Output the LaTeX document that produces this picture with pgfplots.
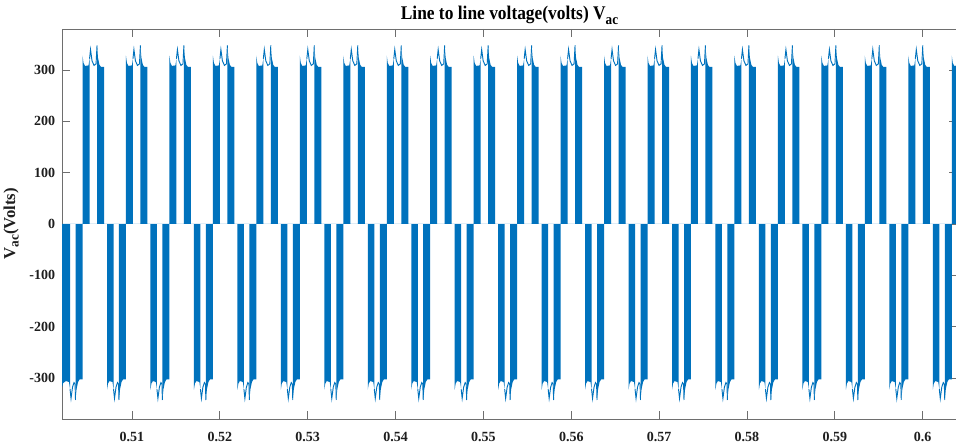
\documentclass[border=0pt]{standalone}
\usepackage{graphicx}
\usepackage{pgfplots}
\pgfplotsset{compat=1.18}
\usepackage{fontspec}
\setmainfont{Liberation Serif}
\definecolor{mblue}{RGB}{0,114,189}
\definecolor{axgray}{RGB}{110,110,110}
\definecolor{txt}{RGB}{30,30,30}
\begin{document}
\begin{tikzpicture}
\begin{axis}[
  scale only axis,
  width=671.25pt, height=292.5pt,
  xmin=0.502033, xmax=0.603904,
  ymin=-380, ymax=380,
  xtick={0.51,0.52,0.53,0.54,0.55,0.56,0.57,0.58,0.59,0.6},
  xticklabels={0.51,0.52,0.53,0.54,0.55,0.56,0.57,0.58,0.59,0.6},
  ytick={-300,-200,-100,0,100,200,300},
  yticklabels={-300,-200,-100,0,100,200,300},
  tick align=inside,
  major tick length=6pt,
  axis line style={axgray, line width=0.6pt},
  tick style={axgray, line width=0.6pt},
  tick label style={font=\bfseries\fontsize{10.5}{12}\selectfont, text=txt},
  xticklabel style={yshift=-6.5pt},
  yticklabel style={xshift=-1.7pt},
  title={\scalebox{0.9}[1]{Line to line voltage(volts) V\raisebox{-0.55ex}{\fontsize{11}{12}\selectfont ac}}},
  title style={font=\bfseries\fontsize{14.5}{16}\selectfont, text=black, at={(axis description cs:0.5,1)}, anchor=base, yshift=1.1pt, inner sep=0pt},
  ylabel={V\raisebox{-0.45ex}{\fontsize{10}{11}\selectfont ac}(Volts)},
  ylabel style={font=\bfseries\fontsize{12.5}{14}\selectfont, text=txt, at={(axis description cs:-0.048,0.5)}, anchor=south, inner sep=0pt},
  clip=true,
]
\addplot[fill=mblue, draw=none, mark=none] coordinates {
(0.50205,0) (0.50205,-318) (0.50216,-310) (0.50249,-306) (0.50283,-308) (0.50295,-322) (0.50295,0)
(0.50357,0) (0.50357,-343) (0.50369,-322) (0.50386,-308) (0.50403,-303) (0.50437,-303)
(0.50437,0) (0.50437,328) (0.50448,314) (0.50465,308) (0.50505,309) (0.50517,322) (0.50517,0)
(0.50602,0) (0.50602,348) (0.50613,324) (0.50630,310) (0.50648,306) (0.50682,306) (0.50682,0)
(0.50716,0) (0.50716,-323) (0.50727,-311) (0.50744,-306) (0.50778,-308) (0.50790,-322) (0.50790,0)
(0.50852,0) (0.50852,-343) (0.50864,-322) (0.50881,-308) (0.50898,-303) (0.50931,-303)
(0.50931,0) (0.50931,328) (0.50942,314) (0.50959,308) (0.50999,309) (0.51011,322) (0.51011,0)
(0.51096,0) (0.51096,348) (0.51107,324) (0.51124,310) (0.51142,306) (0.51176,306) (0.51176,0)
(0.51210,0) (0.51210,-323) (0.51221,-311) (0.51238,-306) (0.51272,-308) (0.51284,-322) (0.51284,0)
(0.51346,0) (0.51346,-343) (0.51358,-322) (0.51375,-308) (0.51392,-303) (0.51426,-303)
(0.51426,0) (0.51426,328) (0.51437,314) (0.51454,308) (0.51494,309) (0.51506,322) (0.51506,0)
(0.51591,0) (0.51591,348) (0.51602,324) (0.51619,310) (0.51637,306) (0.51671,306) (0.51671,0)
(0.51705,0) (0.51705,-323) (0.51716,-311) (0.51733,-306) (0.51767,-308) (0.51779,-322) (0.51779,0)
(0.51841,0) (0.51841,-343) (0.51853,-322) (0.51870,-308) (0.51887,-303) (0.51921,-303)
(0.51921,0) (0.51921,328) (0.51932,314) (0.51949,308) (0.51989,309) (0.52001,322) (0.52001,0)
(0.52086,0) (0.52086,348) (0.52097,324) (0.52114,310) (0.52132,306) (0.52166,306) (0.52166,0)
(0.52200,0) (0.52200,-323) (0.52211,-311) (0.52228,-306) (0.52262,-308) (0.52274,-322) (0.52274,0)
(0.52336,0) (0.52336,-343) (0.52348,-322) (0.52365,-308) (0.52382,-303) (0.52415,-303)
(0.52415,0) (0.52415,328) (0.52426,314) (0.52443,308) (0.52483,309) (0.52495,322) (0.52495,0)
(0.52580,0) (0.52580,348) (0.52591,324) (0.52608,310) (0.52626,306) (0.52660,306) (0.52660,0)
(0.52694,0) (0.52694,-323) (0.52705,-311) (0.52722,-306) (0.52756,-308) (0.52768,-322) (0.52768,0)
(0.52830,0) (0.52830,-343) (0.52842,-322) (0.52859,-308) (0.52876,-303) (0.52910,-303)
(0.52910,0) (0.52910,328) (0.52921,314) (0.52938,308) (0.52978,309) (0.52990,322) (0.52990,0)
(0.53075,0) (0.53075,348) (0.53086,324) (0.53103,310) (0.53121,306) (0.53155,306) (0.53155,0)
(0.53189,0) (0.53189,-323) (0.53200,-311) (0.53217,-306) (0.53251,-308) (0.53263,-322) (0.53263,0)
(0.53325,0) (0.53325,-343) (0.53337,-322) (0.53354,-308) (0.53371,-303) (0.53405,-303)
(0.53405,0) (0.53405,328) (0.53416,314) (0.53433,308) (0.53473,309) (0.53485,322) (0.53485,0)
(0.53570,0) (0.53570,348) (0.53581,324) (0.53598,310) (0.53616,306) (0.53650,306) (0.53650,0)
(0.53684,0) (0.53684,-323) (0.53695,-311) (0.53712,-306) (0.53746,-308) (0.53758,-322) (0.53758,0)
(0.53820,0) (0.53820,-343) (0.53832,-322) (0.53849,-308) (0.53866,-303) (0.53900,-303)
(0.53900,0) (0.53900,328) (0.53911,314) (0.53928,308) (0.53968,309) (0.53980,322) (0.53980,0)
(0.54065,0) (0.54065,348) (0.54076,324) (0.54093,310) (0.54111,306) (0.54145,306) (0.54145,0)
(0.54179,0) (0.54179,-323) (0.54190,-311) (0.54207,-306) (0.54241,-308) (0.54253,-322) (0.54253,0)
(0.54315,0) (0.54315,-343) (0.54327,-322) (0.54344,-308) (0.54361,-303) (0.54394,-303)
(0.54394,0) (0.54394,328) (0.54405,314) (0.54422,308) (0.54462,309) (0.54474,322) (0.54474,0)
(0.54559,0) (0.54559,348) (0.54570,324) (0.54587,310) (0.54605,306) (0.54639,306) (0.54639,0)
(0.54673,0) (0.54673,-323) (0.54684,-311) (0.54701,-306) (0.54735,-308) (0.54747,-322) (0.54747,0)
(0.54809,0) (0.54809,-343) (0.54821,-322) (0.54838,-308) (0.54855,-303) (0.54889,-303)
(0.54889,0) (0.54889,328) (0.54900,314) (0.54917,308) (0.54957,309) (0.54969,322) (0.54969,0)
(0.55054,0) (0.55054,348) (0.55065,324) (0.55082,310) (0.55100,306) (0.55134,306) (0.55134,0)
(0.55168,0) (0.55168,-323) (0.55179,-311) (0.55196,-306) (0.55230,-308) (0.55242,-322) (0.55242,0)
(0.55304,0) (0.55304,-343) (0.55316,-322) (0.55333,-308) (0.55350,-303) (0.55384,-303)
(0.55384,0) (0.55384,328) (0.55395,314) (0.55412,308) (0.55452,309) (0.55464,322) (0.55464,0)
(0.55549,0) (0.55549,348) (0.55560,324) (0.55577,310) (0.55595,306) (0.55629,306) (0.55629,0)
(0.55663,0) (0.55663,-323) (0.55674,-311) (0.55691,-306) (0.55725,-308) (0.55737,-322) (0.55737,0)
(0.55799,0) (0.55799,-343) (0.55811,-322) (0.55828,-308) (0.55845,-303) (0.55878,-303)
(0.55878,0) (0.55878,328) (0.55889,314) (0.55906,308) (0.55946,309) (0.55958,322) (0.55958,0)
(0.56043,0) (0.56043,348) (0.56054,324) (0.56071,310) (0.56089,306) (0.56123,306) (0.56123,0)
(0.56157,0) (0.56157,-323) (0.56168,-311) (0.56185,-306) (0.56219,-308) (0.56231,-322) (0.56231,0)
(0.56293,0) (0.56293,-343) (0.56305,-322) (0.56322,-308) (0.56339,-303) (0.56373,-303)
(0.56373,0) (0.56373,328) (0.56384,314) (0.56401,308) (0.56441,309) (0.56453,322) (0.56453,0)
(0.56538,0) (0.56538,348) (0.56549,324) (0.56566,310) (0.56584,306) (0.56618,306) (0.56618,0)
(0.56652,0) (0.56652,-323) (0.56663,-311) (0.56680,-306) (0.56714,-308) (0.56726,-322) (0.56726,0)
(0.56788,0) (0.56788,-343) (0.56800,-322) (0.56817,-308) (0.56834,-303) (0.56868,-303)
(0.56868,0) (0.56868,328) (0.56879,314) (0.56896,308) (0.56936,309) (0.56948,322) (0.56948,0)
(0.57033,0) (0.57033,348) (0.57044,324) (0.57061,310) (0.57079,306) (0.57113,306) (0.57113,0)
(0.57147,0) (0.57147,-323) (0.57158,-311) (0.57175,-306) (0.57209,-308) (0.57221,-322) (0.57221,0)
(0.57283,0) (0.57283,-343) (0.57295,-322) (0.57312,-308) (0.57329,-303) (0.57362,-303)
(0.57362,0) (0.57362,328) (0.57373,314) (0.57390,308) (0.57430,309) (0.57442,322) (0.57442,0)
(0.57527,0) (0.57527,348) (0.57538,324) (0.57555,310) (0.57573,306) (0.57607,306) (0.57607,0)
(0.57641,0) (0.57641,-323) (0.57652,-311) (0.57669,-306) (0.57703,-308) (0.57715,-322) (0.57715,0)
(0.57777,0) (0.57777,-343) (0.57789,-322) (0.57806,-308) (0.57823,-303) (0.57857,-303)
(0.57857,0) (0.57857,328) (0.57868,314) (0.57885,308) (0.57925,309) (0.57937,322) (0.57937,0)
(0.58022,0) (0.58022,348) (0.58033,324) (0.58050,310) (0.58068,306) (0.58102,306) (0.58102,0)
(0.58136,0) (0.58136,-323) (0.58147,-311) (0.58164,-306) (0.58198,-308) (0.58210,-322) (0.58210,0)
(0.58272,0) (0.58272,-343) (0.58284,-322) (0.58301,-308) (0.58318,-303) (0.58352,-303)
(0.58352,0) (0.58352,328) (0.58363,314) (0.58380,308) (0.58420,309) (0.58432,322) (0.58432,0)
(0.58517,0) (0.58517,348) (0.58528,324) (0.58545,310) (0.58563,306) (0.58597,306) (0.58597,0)
(0.58631,0) (0.58631,-323) (0.58642,-311) (0.58659,-306) (0.58693,-308) (0.58705,-322) (0.58705,0)
(0.58767,0) (0.58767,-343) (0.58779,-322) (0.58796,-308) (0.58813,-303) (0.58847,-303)
(0.58847,0) (0.58847,328) (0.58858,314) (0.58875,308) (0.58915,309) (0.58927,322) (0.58927,0)
(0.59012,0) (0.59012,348) (0.59023,324) (0.59040,310) (0.59058,306) (0.59092,306) (0.59092,0)
(0.59126,0) (0.59126,-323) (0.59137,-311) (0.59154,-306) (0.59188,-308) (0.59200,-322) (0.59200,0)
(0.59262,0) (0.59262,-343) (0.59274,-322) (0.59291,-308) (0.59308,-303) (0.59341,-303)
(0.59341,0) (0.59341,328) (0.59352,314) (0.59369,308) (0.59409,309) (0.59421,322) (0.59421,0)
(0.59506,0) (0.59506,348) (0.59517,324) (0.59534,310) (0.59552,306) (0.59586,306) (0.59586,0)
(0.59620,0) (0.59620,-323) (0.59631,-311) (0.59648,-306) (0.59682,-308) (0.59694,-322) (0.59694,0)
(0.59756,0) (0.59756,-343) (0.59768,-322) (0.59785,-308) (0.59802,-303) (0.59836,-303)
(0.59836,0) (0.59836,328) (0.59847,314) (0.59864,308) (0.59904,309) (0.59916,322) (0.59916,0)
(0.60001,0) (0.60001,348) (0.60012,324) (0.60029,310) (0.60047,306) (0.60081,306) (0.60081,0)
(0.60115,0) (0.60115,-323) (0.60126,-311) (0.60143,-306) (0.60177,-308) (0.60189,-322) (0.60189,0)
(0.60251,0) (0.60251,-343) (0.60263,-322) (0.60280,-308) (0.60297,-303) (0.60331,-303)
(0.60331,0) (0.60331,328) (0.60342,314) (0.60359,308) (0.60399,309) (0.60411,322) (0.60411,0)
} -- cycle;
\addplot[mblue, line width=0.7pt, mark=none, unbounded coords=jump] table {
x y
0.50295 -322
0.50306 -340
0.50323 -318
0.50340 -309
0.50352 -312
0.50357 -343
0.50357 nan
0.50517 322
0.50528 340
0.50545 318
0.50568 309
0.50591 312
0.50602 348
0.50602 nan
0.50790 -322
0.50801 -340
0.50818 -318
0.50835 -309
0.50847 -312
0.50852 -343
0.50852 nan
0.51011 322
0.51022 340
0.51039 318
0.51062 309
0.51085 312
0.51096 348
0.51096 nan
0.51284 -322
0.51295 -340
0.51312 -318
0.51329 -309
0.51341 -312
0.51346 -343
0.51346 nan
0.51506 322
0.51517 340
0.51534 318
0.51557 309
0.51580 312
0.51591 348
0.51591 nan
0.51779 -322
0.51790 -340
0.51807 -318
0.51824 -309
0.51836 -312
0.51841 -343
0.51841 nan
0.52001 322
0.52012 340
0.52029 318
0.52052 309
0.52075 312
0.52086 348
0.52086 nan
0.52274 -322
0.52285 -340
0.52302 -318
0.52319 -309
0.52331 -312
0.52336 -343
0.52336 nan
0.52495 322
0.52506 340
0.52523 318
0.52546 309
0.52569 312
0.52580 348
0.52580 nan
0.52768 -322
0.52779 -340
0.52796 -318
0.52813 -309
0.52825 -312
0.52830 -343
0.52830 nan
0.52990 322
0.53001 340
0.53018 318
0.53041 309
0.53064 312
0.53075 348
0.53075 nan
0.53263 -322
0.53274 -340
0.53291 -318
0.53308 -309
0.53320 -312
0.53325 -343
0.53325 nan
0.53485 322
0.53496 340
0.53513 318
0.53536 309
0.53559 312
0.53570 348
0.53570 nan
0.53758 -322
0.53769 -340
0.53786 -318
0.53803 -309
0.53815 -312
0.53820 -343
0.53820 nan
0.53980 322
0.53991 340
0.54008 318
0.54031 309
0.54054 312
0.54065 348
0.54065 nan
0.54253 -322
0.54264 -340
0.54281 -318
0.54298 -309
0.54310 -312
0.54315 -343
0.54315 nan
0.54474 322
0.54485 340
0.54502 318
0.54525 309
0.54548 312
0.54559 348
0.54559 nan
0.54747 -322
0.54758 -340
0.54775 -318
0.54792 -309
0.54804 -312
0.54809 -343
0.54809 nan
0.54969 322
0.54980 340
0.54997 318
0.55020 309
0.55043 312
0.55054 348
0.55054 nan
0.55242 -322
0.55253 -340
0.55270 -318
0.55287 -309
0.55299 -312
0.55304 -343
0.55304 nan
0.55464 322
0.55475 340
0.55492 318
0.55515 309
0.55538 312
0.55549 348
0.55549 nan
0.55737 -322
0.55748 -340
0.55765 -318
0.55782 -309
0.55794 -312
0.55799 -343
0.55799 nan
0.55958 322
0.55969 340
0.55986 318
0.56009 309
0.56032 312
0.56043 348
0.56043 nan
0.56231 -322
0.56242 -340
0.56259 -318
0.56276 -309
0.56288 -312
0.56293 -343
0.56293 nan
0.56453 322
0.56464 340
0.56481 318
0.56504 309
0.56527 312
0.56538 348
0.56538 nan
0.56726 -322
0.56737 -340
0.56754 -318
0.56771 -309
0.56783 -312
0.56788 -343
0.56788 nan
0.56948 322
0.56959 340
0.56976 318
0.56999 309
0.57022 312
0.57033 348
0.57033 nan
0.57221 -322
0.57232 -340
0.57249 -318
0.57266 -309
0.57278 -312
0.57283 -343
0.57283 nan
0.57442 322
0.57453 340
0.57470 318
0.57493 309
0.57516 312
0.57527 348
0.57527 nan
0.57715 -322
0.57726 -340
0.57743 -318
0.57760 -309
0.57772 -312
0.57777 -343
0.57777 nan
0.57937 322
0.57948 340
0.57965 318
0.57988 309
0.58011 312
0.58022 348
0.58022 nan
0.58210 -322
0.58221 -340
0.58238 -318
0.58255 -309
0.58267 -312
0.58272 -343
0.58272 nan
0.58432 322
0.58443 340
0.58460 318
0.58483 309
0.58506 312
0.58517 348
0.58517 nan
0.58705 -322
0.58716 -340
0.58733 -318
0.58750 -309
0.58762 -312
0.58767 -343
0.58767 nan
0.58927 322
0.58938 340
0.58955 318
0.58978 309
0.59001 312
0.59012 348
0.59012 nan
0.59200 -322
0.59211 -340
0.59228 -318
0.59245 -309
0.59257 -312
0.59262 -343
0.59262 nan
0.59421 322
0.59432 340
0.59449 318
0.59472 309
0.59495 312
0.59506 348
0.59506 nan
0.59694 -322
0.59705 -340
0.59722 -318
0.59739 -309
0.59751 -312
0.59756 -343
0.59756 nan
0.59916 322
0.59927 340
0.59944 318
0.59967 309
0.59990 312
0.60001 348
0.60001 nan
0.60189 -322
0.60200 -340
0.60217 -318
0.60234 -309
0.60246 -312
0.60251 -343
0.60251 nan
0.60411 322
0.60422 340
0.60439 318
};
\end{axis}
\pgfresetboundingbox
\path[use as bounding box] ([shift={(-46.5pt,-19.5pt)}]current axis.south west) rectangle ([shift={(-0.75pt,21.75pt)}]current axis.north east);
\end{tikzpicture}
\end{document}
